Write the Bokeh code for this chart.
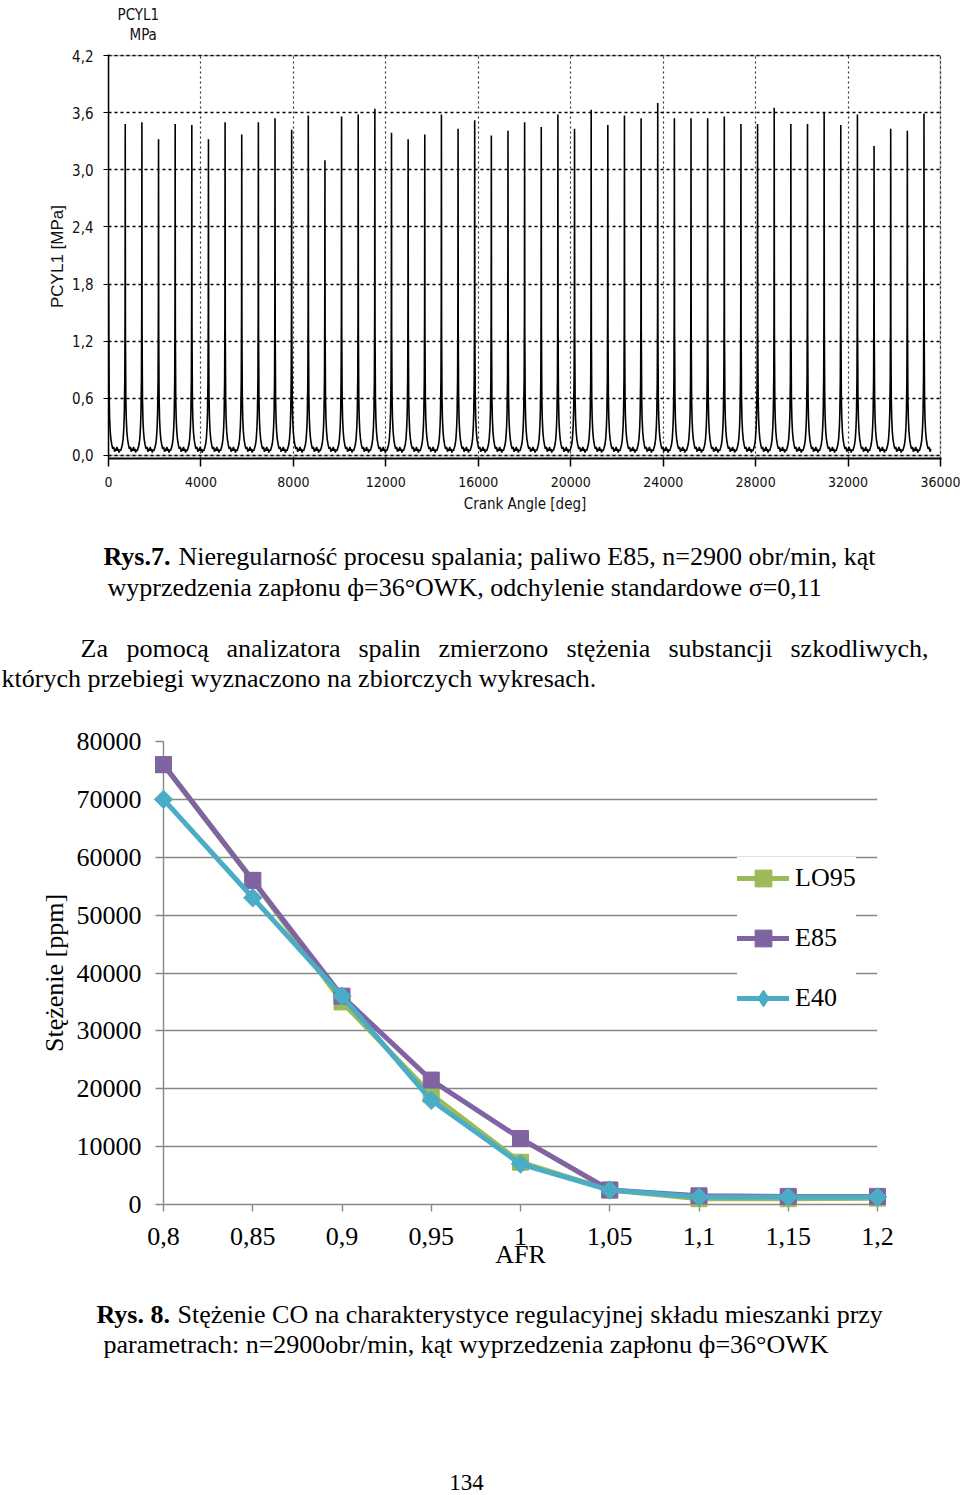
import math
from bokeh.plotting import figure
from bokeh.models import (Range1d, FixedTicker, CustomJSTickFormatter,
                          BoxAnnotation, Legend, LegendItem)
from bokeh.core.properties import value
from bokeh.embed import file_html
from bokeh.resources import INLINE

# ---------------- Rys.7 data: cylinder pressure trace ----------------
cycle_peaks_mpa = [1.80, 3.48, 3.50, 3.32, 3.48, 3.47, 3.32, 3.50, 3.37, 3.50,
                   3.54, 3.42, 3.57, 3.10, 3.56, 3.58, 3.64, 3.39, 3.32, 3.37,
                   3.58, 3.43, 3.52, 3.36, 3.41, 3.50, 3.45, 3.58, 3.43, 3.63,
                   3.47, 3.57, 3.54, 3.70, 3.54, 3.54, 3.54, 3.56, 3.48, 3.48,
                   3.65, 3.48, 3.48, 3.60, 3.47, 3.58, 3.25, 3.43, 3.41, 3.59]
cycle_length_deg = 720
peak_phase_deg = 5
trace_end_deg = 35600
# pressure of one cycle around its spike (offset from peak [deg], pressure [MPa]; None = peak)
cycle_offsets_deg = [-360, -330, -300, -270, -240, -200, -160, -120, -90, -60, -40, -20, -8,
                     0, 8, 25, 45, 70, 100, 140, 180, 220, 260, 300, 330]
cycle_pressure_mpa = [0.09, 0.05, 0.07, 0.03, 0.06, 0.05, 0.08, 0.12, 0.18, 0.30, 0.45, 0.80, 1.50,
                      None, 1.30, 0.60, 0.38, 0.25, 0.17, 0.11, 0.07, 0.09, 0.04, 0.07, 0.05]
x_ticks_deg = [0, 4000, 8000, 12000, 16000, 20000, 24000, 28000, 32000, 36000]
y_ticks_mpa = [0.0, 0.6, 1.2, 1.8, 2.4, 3.0, 3.6, 4.2]

# ---------------- Rys.8 data: CO concentration ----------------
afr = [0.8, 0.85, 0.9, 0.95, 1.0, 1.05, 1.1, 1.15, 1.2]
co_lo95 = [76000, 56000, 35000, 19000, 7300, 2500, 1000, 1000, 1100]
co_e85 = [76000, 56000, 36000, 21500, 11400, 2500, 1500, 1400, 1400]
co_e40 = [70000, 53000, 36000, 18000, 7000, 2500, 1300, 1300, 1300]
y_ticks_ppm = [0, 10000, 20000, 30000, 40000, 50000, 60000, 70000, 80000]

# ---------------- texts ----------------
header_lines = ["PCYL1", "MPa"]
fig7_bold = "Rys.7."
fig7_line1 = "Nieregularność procesu spalania; paliwo E85, n=2900 obr/min, kąt"
fig7_line2 = "wyprzedzenia zapłonu ф=36°OWK, odchylenie standardowe σ=0,11"
para_line1_words = ["Za", "pomocą", "analizatora", "spalin", "zmierzono", "stężenia",
                    "substancji", "szkodliwych,"]
para_line1_x = [80, 126, 226, 358, 438, 566, 668, 790]
para_line2 = "których przebiegi wyznaczono na zbiorczych wykresach."
fig8_bold = "Rys. 8."
fig8_line1 = "Stężenie CO na charakterystyce regulacyjnej składu mieszanki przy"
fig8_line2 = "parametrach: n=2900obr/min, kąt wyprzedzenia zapłonu ф=36°OWK"
page_number = "134"

SERIF = "Liberation Serif"
NARROW = "DejaVu Sans Condensed, Liberation Sans"


# ================= text figures =================
def text_fig(y_top, y_bottom):
    f = figure(width=960, height=y_bottom - y_top, x_range=Range1d(0, 960),
               y_range=Range1d(y_bottom, y_top), output_backend="svg", toolbar_location=None,
               x_axis_location=None, y_axis_location=None, min_border=0)
    f.title.visible = False
    f.grid.visible = False
    f.outline_line_color = None
    return f


# header of Rys.7 (channel name and unit)
t0 = text_fig(0, 48)
t0.text(x=[117, 129], y=[14.5, 34.5], text=header_lines, text_font=value(NARROW),
        text_font_size="15px", text_color="#111111", text_baseline="alphabetic")

# ================= Figure 1: pressure trace =================
trace_x, trace_y = [], []
for k, pk in enumerate(cycle_peaks_mpa):
    for off, pr in zip(cycle_offsets_deg, cycle_pressure_mpa):
        x = k * cycle_length_deg + peak_phase_deg + off
        y = pk if pr is None else min(pr, pk)
        if -10 <= x <= trace_end_deg:
            trace_x.append(x)
            trace_y.append(y)

p1 = figure(width=960, height=477, x_range=Range1d(0, 36043), y_range=Range1d(-0.032, 4.2105),
            output_backend="svg", toolbar_location=None,
            min_border_left=108, min_border_right=19, min_border_top=6, min_border_bottom=67)
p1.title.visible = False
p1.outline_line_color = None
p1.background_fill_color = "white"

xa = p1.xaxis[0]
xa.ticker = FixedTicker(ticks=x_ticks_deg)
xa.formatter = CustomJSTickFormatter(code="return tick.toFixed(0)")
xa.axis_line_color = "black"
xa.axis_line_width = 2
xa.major_tick_out = 8
xa.major_tick_in = 0
xa.major_tick_line_color = "black"
xa.major_tick_line_width = 1.5
xa.minor_tick_line_color = None
xa.major_label_text_font = NARROW
xa.major_label_text_font_size = "14px"
xa.major_label_text_color = "#111111"
xa.major_label_standoff = 10
xa.axis_label = "Crank Angle [deg]"
xa.axis_label_text_font = NARROW
xa.axis_label_text_font_size = "15px"
xa.axis_label_text_font_style = "normal"
xa.axis_label_text_color = "#111111"
xa.axis_label_standoff = 5

ya = p1.yaxis[0]
ya.ticker = FixedTicker(ticks=y_ticks_mpa)
ya.formatter = CustomJSTickFormatter(code="return tick.toFixed(1).replace('.', ',')")
ya.axis_line_color = "black"
ya.axis_line_width = 1.5
ya.major_tick_out = 5
ya.major_tick_in = 0
ya.major_tick_line_color = "black"
ya.minor_tick_line_color = None
ya.major_label_text_font = NARROW
ya.major_label_text_font_size = "15px"
ya.major_label_text_color = "#111111"
ya.major_label_standoff = 10
ya.axis_label = "PCYL1 [MPa]"
ya.axis_label_text_font = "Liberation Sans"
ya.axis_label_text_font_size = "17px"
ya.axis_label_text_font_style = "normal"
ya.axis_label_text_color = "#111111"
ya.axis_label_standoff = 2

p1.ygrid.grid_line_color = "black"
p1.ygrid.grid_line_dash = "3 3"
p1.ygrid.grid_line_width = 1.5
p1.xgrid.grid_line_color = "#333333"
p1.xgrid.grid_line_dash = "2 3"
p1.xgrid.grid_line_width = 1.2

p1.add_layout(BoxAnnotation(left=0, right=36000, bottom=0, top=4.2, fill_alpha=0,
                            fill_color=None, line_color="black", line_width=1.5))
p1.line(trace_x, trace_y, line_color="black", line_width=1.6)

t1 = text_fig(525, 728)
t1.text(x=[103], y=[556], text=[fig7_bold], text_font=value(SERIF), text_font_size="26px",
        text_font_style="bold", text_color="black", text_baseline="alphabetic")
t1.text(x=[178, 107], y=[556, 587], text=[fig7_line1, fig7_line2], text_font=value(SERIF),
        text_font_size="26px", text_color="black", text_baseline="alphabetic")
t1.text(x=para_line1_x, y=[648] * len(para_line1_words), text=para_line1_words,
        text_font=value(SERIF), text_font_size="26px", text_color="black",
        text_baseline="alphabetic")
t1.text(x=[1], y=[678], text=[para_line2], text_font=value(SERIF), text_font_size="26px",
        text_color="black", text_baseline="alphabetic")

# ================= Figure 2: CO concentration =================
GRAY = "#878787"
p2 = figure(width=960, height=552, x_range=Range1d(0.8, 1.2), y_range=Range1d(0, 80000),
            output_backend="svg", toolbar_location=None,
            min_border_left=163, min_border_right=83, min_border_top=13, min_border_bottom=76)
p2.title.visible = False
p2.outline_line_color = None
p2.xgrid.grid_line_color = None
p2.ygrid.grid_line_color = GRAY
p2.ygrid.grid_line_width = 1.4

xb = p2.xaxis[0]
xb.ticker = FixedTicker(ticks=afr)
xb.formatter = CustomJSTickFormatter(code="return tick.toString().replace('.', ',')")
xb.axis_line_color = GRAY
xb.axis_line_width = 1.4
xb.major_tick_out = 7
xb.major_tick_in = 0
xb.major_tick_line_color = GRAY
xb.major_tick_line_width = 1.4
xb.minor_tick_line_color = None
xb.major_label_text_font = SERIF
xb.major_label_text_font_size = "26px"
xb.major_label_text_color = "black"
xb.major_label_standoff = 16
xb.axis_label = "AFR"
xb.axis_label_text_font = SERIF
xb.axis_label_text_font_size = "26px"
xb.axis_label_text_font_style = "normal"
xb.axis_label_text_color = "black"
xb.axis_label_standoff = -8

yb = p2.yaxis[0]
yb.ticker = FixedTicker(ticks=y_ticks_ppm)
yb.formatter = CustomJSTickFormatter(code="return tick.toFixed(0)")
yb.axis_line_color = GRAY
yb.axis_line_width = 1.4
yb.major_tick_out = 8
yb.major_tick_in = 0
yb.major_tick_line_color = GRAY
yb.major_tick_line_width = 1.4
yb.minor_tick_line_color = None
yb.major_label_text_font = SERIF
yb.major_label_text_font_size = "26px"
yb.major_label_text_color = "black"
yb.major_label_standoff = 14
yb.axis_label = "Stężenie [ppm]"
yb.axis_label_text_font = SERIF
yb.axis_label_text_font_size = "26px"
yb.axis_label_text_font_style = "normal"
yb.axis_label_text_color = "black"
yb.axis_label_standoff = 5

# (name, values, colour, plot size, plot angle, legend marker)
series = [("LO95", co_lo95, "#9BBB59", 16, 0.0, "square"),
          ("E85", co_e85, "#8064A2", 16, 0.0, "square"),
          ("E40", co_e40, "#4BACC6", 13, math.pi / 4, "diamond")]
items = []
for name, vals, color, msize, ang, leg_marker in series:
    lr = p2.line(afr, vals, line_color=color, line_width=5, line_join="round", line_cap="round")
    sr = p2.scatter(afr, vals, marker="square", size=msize, angle=ang, fill_color=color,
                    line_color=color, line_width=1)
    lr.level = "overlay"
    sr.level = "overlay"
    if leg_marker == "square":
        items.append(LegendItem(label=name, renderers=[lr, sr]))
    else:
        lg = p2.scatter(afr, vals, marker=leg_marker, size=msize, fill_color=color,
                        line_color=color, line_width=1, visible=False)
        items.append(LegendItem(label=name, renderers=[lr, lg]))

legend = Legend(items=items, location=(574, 185), orientation="vertical",
                background_fill_color="white", background_fill_alpha=1.0,
                border_line_color=None, padding=8, spacing=18, margin=0,
                glyph_width=52, glyph_height=42, label_standoff=6,
                label_text_font=SERIF, label_text_font_size="26px", label_text_color="black")
p2.add_layout(legend)

t2 = text_fig(1280, 1495)
t2.text(x=[96], y=[1314], text=[fig8_bold], text_font=value(SERIF), text_font_size="26px",
        text_font_style="bold", text_color="black", text_baseline="alphabetic")
t2.text(x=[177, 103], y=[1314, 1344], text=[fig8_line1, fig8_line2], text_font=value(SERIF),
        text_font_size="26px", text_color="black", text_baseline="alphabetic")
t2.text(x=[466], y=[1482], text=[page_number], text_font=value(SERIF), text_font_size="23px",
        text_color="black", text_align="center", text_baseline="alphabetic")

open("out.html", "w").write(file_html([t0, p1, t1, p2, t2], INLINE))
